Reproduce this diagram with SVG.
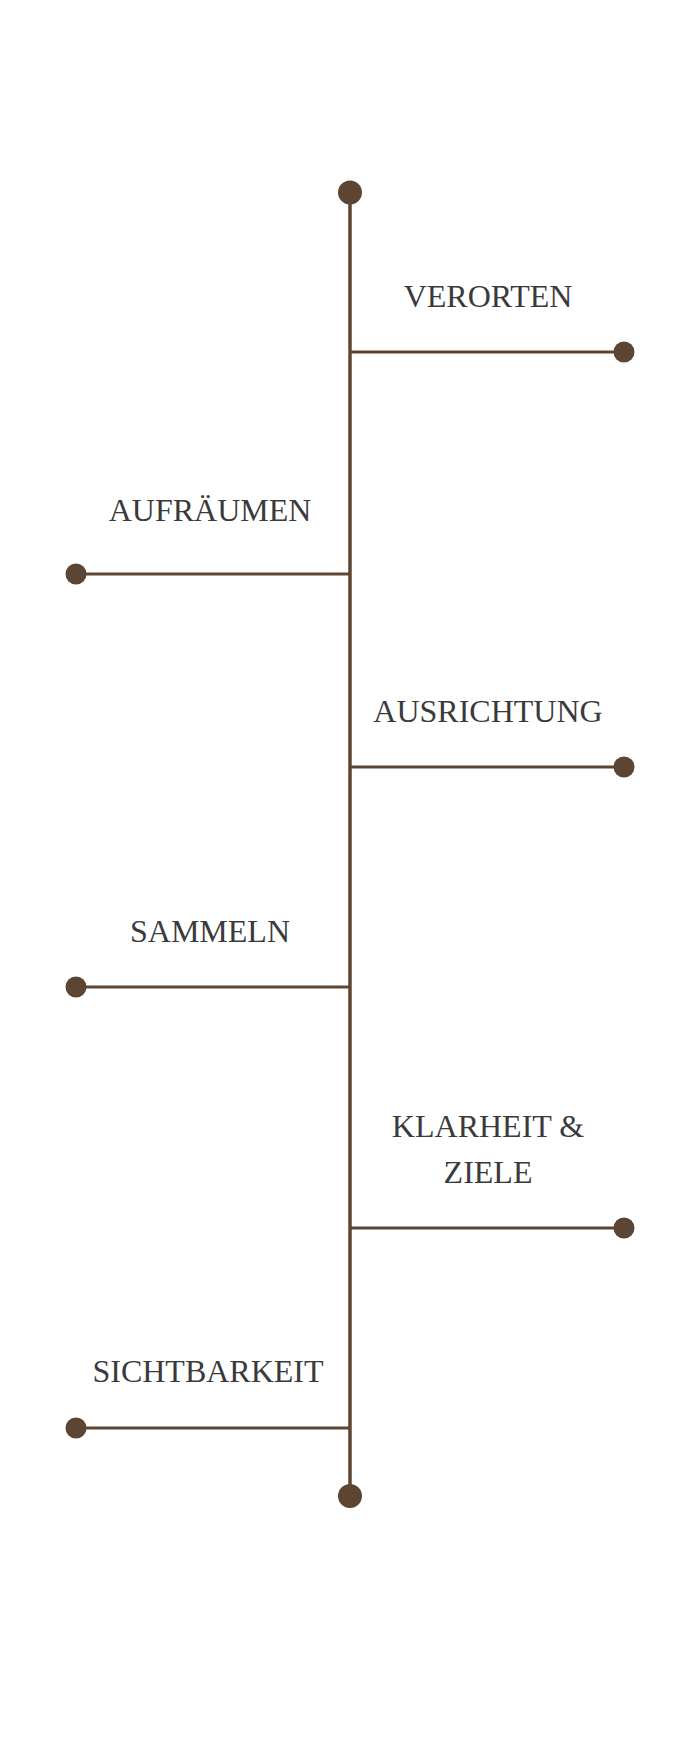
<svg xmlns="http://www.w3.org/2000/svg" width="700" height="1750" viewBox="0 0 700 1750">
<style>
.ln{stroke:#5c4532;stroke-width:3;fill:none}
.vl{stroke:#5c4532;stroke-width:3.5;fill:none}
.dot{fill:#5c4532}
.lbl{font-family:"Liberation Serif","DejaVu Serif",serif;font-size:32px;fill:#3a3a3c;text-anchor:middle}
</style>
<rect width="700" height="1750" fill="#ffffff"/>
<g id="connectors">
<line class="vl" x1="350" y1="192" x2="350" y2="1496"/>
<line class="ln" x1="350" y1="352" x2="624" y2="352"/>
<line class="ln" x1="350" y1="574" x2="76" y2="574"/>
<line class="ln" x1="350" y1="767" x2="624" y2="767"/>
<line class="ln" x1="350" y1="987" x2="76" y2="987"/>
<line class="ln" x1="350" y1="1228" x2="624" y2="1228"/>
<line class="ln" x1="350" y1="1428" x2="76" y2="1428"/>
</g>
<g id="start"><circle class="dot" cx="350" cy="192.5" r="12"/></g>
<g id="end"><circle class="dot" cx="350" cy="1496" r="12"/></g>
<g id="verorten"><circle class="dot" cx="624" cy="352" r="10.5"/><text class="lbl" x="488" y="307">VERORTEN</text></g>
<g id="aufraeumen"><circle class="dot" cx="76" cy="574" r="10.5"/><text class="lbl" x="210" y="521">AUFRÄUMEN</text></g>
<g id="ausrichtung"><circle class="dot" cx="624" cy="767" r="10.5"/><text class="lbl" x="488" y="722">AUSRICHTUNG</text></g>
<g id="sammeln"><circle class="dot" cx="76" cy="987" r="10.5"/><text class="lbl" x="210" y="942">SAMMELN</text></g>
<g id="klarheit"><circle class="dot" cx="624" cy="1228" r="10.5"/><text class="lbl" x="488" y="1137">KLARHEIT &amp;</text><text class="lbl" x="488" y="1183">ZIELE</text></g>
<g id="sichtbarkeit"><circle class="dot" cx="76" cy="1428" r="10.5"/><text class="lbl" x="208" y="1382">SICHTBARKEIT</text></g>
</svg>
